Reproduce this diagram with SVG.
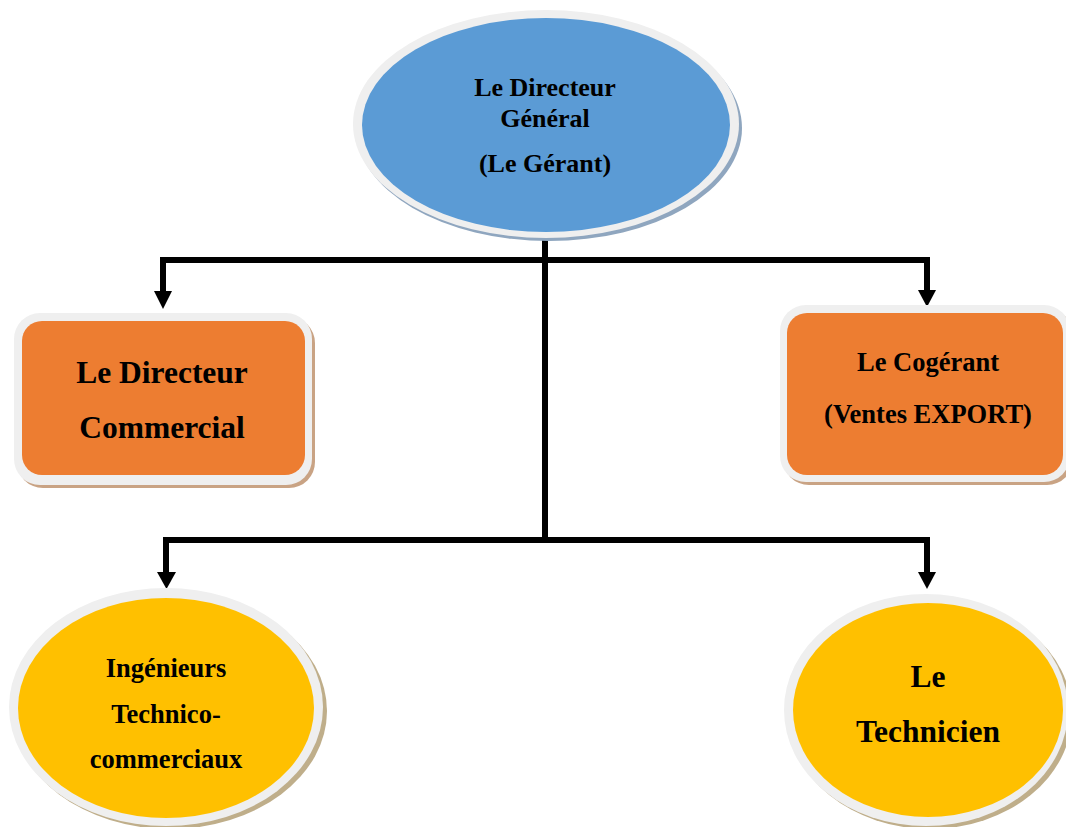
<svg xmlns="http://www.w3.org/2000/svg" width="1066" height="827" viewBox="0 0 1066 827">
<style>
text{font-family:"Liberation Serif","Times New Roman",serif;font-weight:bold;fill:#000;text-anchor:middle}
.ring{fill:#EFEFEF}
.line{stroke:#000;stroke-width:6;fill:none}
.head{fill:#000}
</style>
<rect width="1066" height="827" fill="#fff"/>
<g id="connectors">
<path class="line" d="M545,238 V543"/>
<path class="line" d="M163,260 H930"/>
<path class="line" d="M163,257 V293"/>
<path class="line" d="M927,257 V292"/>
<path class="line" d="M166,540 H930"/>
<path class="line" d="M166,537 V574"/>
<path class="line" d="M927,537 V574"/>
<polygon class="head" points="154,291 172,291 163,309"/>
<polygon class="head" points="918,290 936,290 927,307"/>
<polygon class="head" points="157,572 176,572 166.5,589"/>
<polygon class="head" points="918,572 936,572 927,589"/>
</g>
<g id="dg">
<ellipse cx="549" cy="128" rx="193" ry="113" fill="#8FA6BF"/>
<ellipse class="ring" cx="546" cy="124" rx="193" ry="114"/>
<ellipse cx="546" cy="125" rx="184" ry="107" fill="#5B9BD5"/>
<text x="545" y="96" font-size="26">Le Directeur</text>
<text x="545" y="127" font-size="26">Général</text>
<text x="545" y="172" font-size="26">(Le Gérant)</text>
</g>
<g id="dc">
<rect x="17" y="317" width="298" height="171" rx="26" fill="#C9A384"/>
<rect class="ring" x="14" y="313" width="298" height="172" rx="26"/>
<rect x="22" y="321" width="283" height="154" rx="20" fill="#ED7D31"/>
<text x="162" y="383" font-size="31.5">Le Directeur</text>
<text x="162" y="438" font-size="31.5">Commercial</text>
</g>
<g id="cogerant">
<rect x="783" y="309" width="290" height="176" rx="26" fill="#C9A384"/>
<rect class="ring" x="780" y="305" width="290" height="177" rx="26"/>
<rect x="787" y="313" width="276" height="162" rx="20" fill="#ED7D31"/>
<text x="928" y="371" font-size="26.5">Le Cogérant</text>
<text x="928" y="423" font-size="26.5">(Ventes EXPORT)</text>
</g>
<g id="ingenieurs">
<ellipse cx="170" cy="711" rx="157" ry="118" fill="#BFAE8A"/>
<ellipse class="ring" cx="166" cy="707" rx="157" ry="119"/>
<ellipse cx="166" cy="708" rx="148" ry="110" fill="#FFC000"/>
<text x="166" y="677" font-size="26.5">Ingénieurs</text>
<text x="166" y="723" font-size="26.5">Technico-</text>
<text x="166" y="768" font-size="26.5">commerciaux</text>
</g>
<g id="technicien">
<ellipse cx="930" cy="714" rx="142" ry="115" fill="#BFAE8A"/>
<ellipse class="ring" cx="926" cy="710" rx="142" ry="116"/>
<ellipse cx="928" cy="710" rx="135" ry="107" fill="#FFC000"/>
<text x="928" y="687" font-size="31.5">Le</text>
<text x="928" y="742" font-size="31.5">Technicien</text>
</g>
</svg>
